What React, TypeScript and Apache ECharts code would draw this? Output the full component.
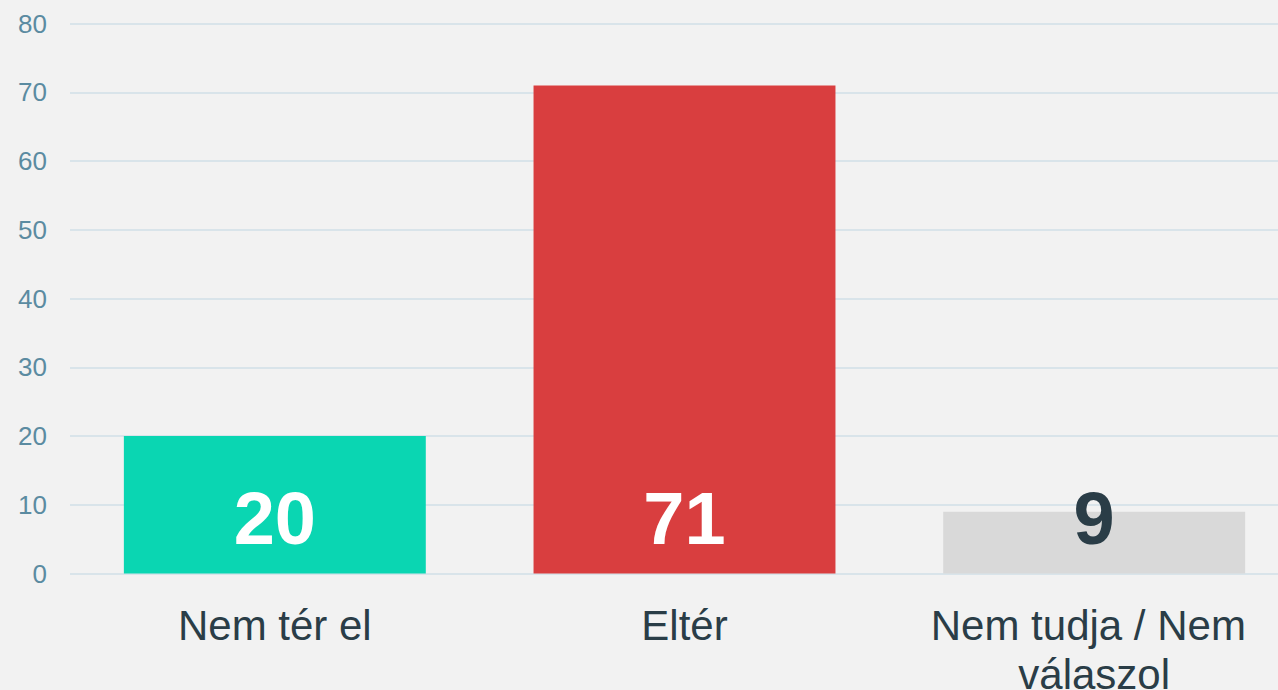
import React, { useEffect, useRef } from "react";
import * as echarts from "echarts";

const categories = ["Nem tér el", "Eltér", "Nem tudja / Nem válaszol"];
const values = [20, 71, 9];
const barColors = ["#0ad6b2", "#d93e3f", "#d9d9d9"];
const labelColors = ["#ffffff", "#ffffff", "#2a3d47"];

const FONT = "'Liberation Sans', Arial, Helvetica, sans-serif";

export default function App() {
  const ref = useRef<HTMLDivElement>(null);
  useEffect(() => {
    document.body.style.margin = "0";
    document.body.style.overflow = "hidden";
    document.body.style.background = "#f2f2f2";
    const chart = echarts.init(ref.current!, null, { renderer: "svg" });
    chart.setOption({
      animation: false,
      backgroundColor: "#f2f2f2",
      grid: {
        left: 70,
        right: -21,
        top: 23.5,
        bottom: 116.5,
        containLabel: false,
        outerBoundsMode: "none",
      },
      xAxis: {
        type: "category",
        data: categories,
        axisLine: { show: false },
        axisTick: { show: false },
        axisLabel: {
          interval: 0,
          margin: 27,
          fontSize: 42,
          lineHeight: 49,
          color: "#2a3d47",
          fontFamily: FONT,
          width: 400,
          overflow: "break",
        },
      },
      yAxis: {
        type: "value",
        min: 0,
        max: 80,
        interval: 10,
        axisLine: { show: false },
        axisTick: { show: false },
        splitLine: { lineStyle: { color: "#d9e4ea", width: 2 } },
        axisLabel: {
          margin: 23,
          fontSize: 26,
          color: "#5b8ba1",
          fontFamily: FONT,
        },
      },
      series: [
        {
          type: "bar",
          barCategoryGap: "26.3%",
          data: values.map((v, i) => ({
            value: v,
            itemStyle: { color: barColors[i] },
            label: { color: labelColors[i] },
          })),
          label: {
            show: true,
            position: "insideBottom",
            distance: 18,
            fontSize: 74,
            fontWeight: "bold",
            fontFamily: FONT,
          },
        },
      ],
    });
    return () => chart.dispose();
  }, []);
  return <div ref={ref} style={{ width: 1278, height: 690 }} />;
}
